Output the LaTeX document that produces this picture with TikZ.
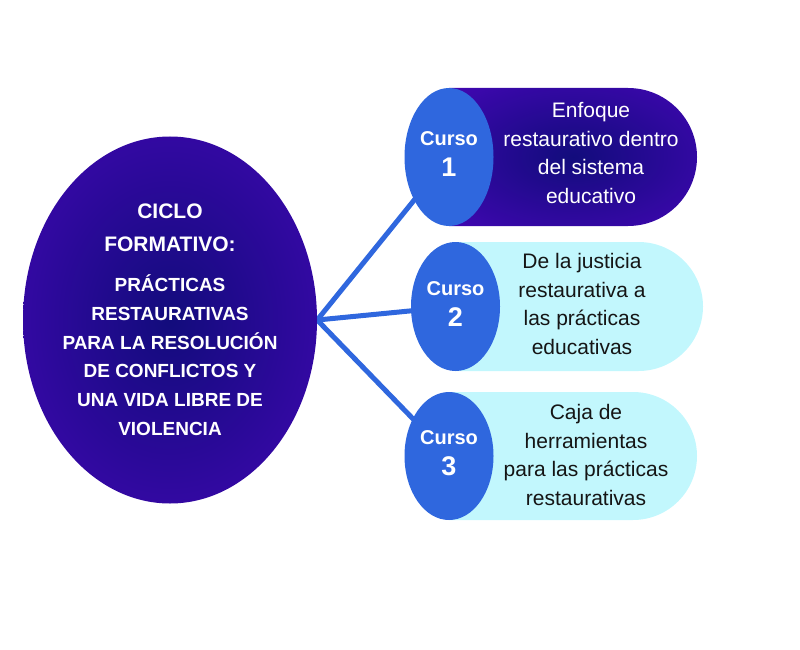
\documentclass[tikz,border=0pt]{standalone}
\usepackage{fontspec}
\setmainfont{Liberation Sans}
\usetikzlibrary{shapes.geometric,shapes.misc,backgrounds}

\definecolor{violeta}{HTML}{5A04CA}
\definecolor{morado}{HTML}{3608A6}
\definecolor{nocturno}{HTML}{120C7C}
\definecolor{azulcurso}{HTML}{2F67DE}
\definecolor{celeste}{HTML}{C2F7FD}
\definecolor{tinta}{HTML}{151515}

\pgfdeclareradialshading{centro}{\pgfpoint{0bp}{0bp}}{%
  color(0bp)=(nocturno); color(28bp)=(morado); color(50bp)=(violeta); color(100bp)=(violeta)}

\begin{document}
\begin{tikzpicture}[x=1pt,y=-1pt,
    degradado/.style={draw=none, shade, shading=centro},
    ovalo/.style={ellipse, inner sep=0pt, degradado},
    curso/.style={ellipse, fill=azulcurso, inner sep=0pt, minimum width=89pt,
      text=white, align=center, text depth=5pt,
      font=\bfseries\fontsize{27}{31}\selectfont},
    pildora/.style={rounded rectangle, rounded rectangle west arc=none,
      inner sep=0pt, minimum width=248pt},
    titulo/.style={text=white, align=center, inner sep=0pt,
      font=\bfseries\fontsize{19}{28.8}\selectfont},
    texto/.style={align=center, inner sep=0pt, font=\fontsize{21}{28.7}\selectfont},
    enlace/.style={line width=5pt, azulcurso},
  ]
  \useasboundingbox (0,0) rectangle (800,650);

  %% ovalo principal
  \node[ovalo, minimum width=294pt, minimum height=367pt] (ciclo) at (170,320) {};
  \node[titulo] (tciclo) at (ciclo.center)
    {{\fontsize{21}{28.8}\selectfont CICLO}\\[3.7pt]
     {\fontsize{21}{28.8}\selectfont FORMATIVO:}\\[11.4pt]
     PRÁCTICAS\\ RESTAURATIVAS\\ PARA LA RESOLUCIÓN\\
     DE CONFLICTOS Y\\ UNA VIDA LIBRE DE\\ VIOLENCIA};

  %% pildoras de los cursos
  \node[pildora, degradado, minimum height=138pt] (p1) at (573,157) {};
  \node[pildora, fill=celeste, minimum height=129pt] (p2) at (579,306.5) {};
  \node[pildora, fill=celeste, minimum height=128pt] (p3) at (573,456) {};

  %% ovalos azules
  \node[curso, minimum height=138pt] (c1) at (449,157)
    {{\fontsize{20}{24}\selectfont Curso}\\ 1};
  \node[curso, minimum height=129pt] (c2) at (455.5,306.5)
    {{\fontsize{20}{24}\selectfont Curso}\\ 2};
  \node[curso, minimum height=128pt] (c3) at (449,456)
    {{\fontsize{20}{24}\selectfont Curso}\\ 3};

  %% textos
  \node[texto, text=white] (t1) at (591,153)
    {Enfoque\\ restaurativo dentro\\ del sistema\\ educativo};
  \node[texto, text=tinta] (t2) at (582,304)
    {De la justicia\\ restaurativa a\\ las prácticas\\ educativas};
  \node[texto, text=tinta] (t3) at (586,455)
    {Caja de\\ herramientas\\ para las prácticas\\ restaurativas};

  %% enlaces
  \begin{pgfonlayer}{background}
    \foreach \k in {1,2,3}
      \draw[enlace] (ciclo.east) -- (c\k.center);
  \end{pgfonlayer}
\end{tikzpicture}
\end{document}
